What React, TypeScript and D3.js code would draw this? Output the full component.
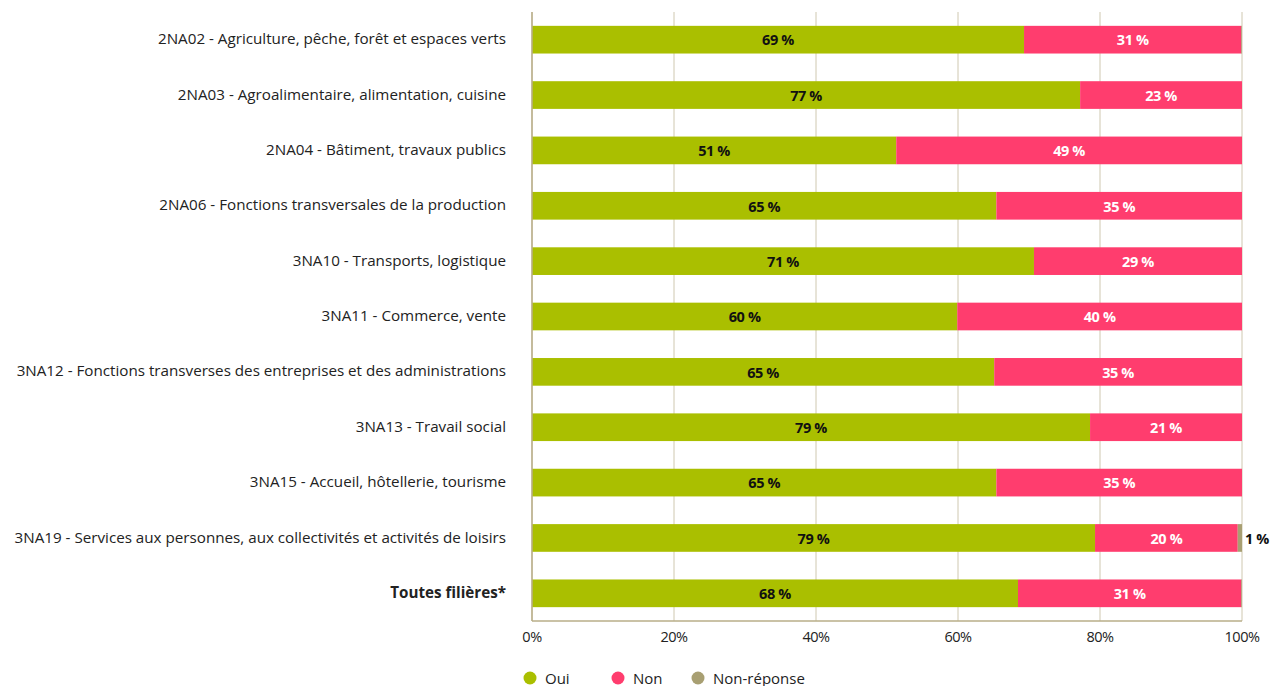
import React from "react";
import * as d3 from "d3";

const categories = [
  "2NA02 - Agriculture, pêche, forêt et espaces verts",
  "2NA03 - Agroalimentaire, alimentation, cuisine",
  "2NA04 - Bâtiment, travaux publics",
  "2NA06 - Fonctions transversales de la production",
  "3NA10 - Transports, logistique",
  "3NA11 - Commerce, vente",
  "3NA12 - Fonctions transverses des entreprises et des administrations",
  "3NA13 - Travail social",
  "3NA15 - Accueil, hôtellerie, tourisme",
  "3NA19 - Services aux personnes, aux collectivités et activités de loisirs",
  "Toutes filières*",
];
const oui = [69.3, 77.2, 51.3, 65.4, 70.7, 59.9, 65.1, 78.6, 65.4, 79.3, 68.45];
const non = [30.6, 22.8, 48.7, 34.6, 29.3, 40.1, 34.9, 21.4, 34.6, 20.1, 31.45];
const nonReponse = [0.1, 0, 0, 0, 0, 0, 0, 0, 0, 0.6, 0.1];
const xTicks = [0, 20, 40, 60, 80, 100];
const seriesNames = ["Oui", "Non", "Non-réponse"];
const colors = ["#aabf00", "#ff3d6e", "#a89f72"];

export default function App() {
  const W = 1270, H = 686;
  const x0 = 532, x1 = 1242, yTop = 12, yBot = 621;
  const x = d3.scaleLinear().domain([0, 100]).range([x0, x1]);
  const y = d3.scaleBand<string>().domain(categories).range([yTop, yBot]).paddingInner(0.5).paddingOuter(0.25);
  const font = "'Open Sans', sans-serif";
  const cond = "'Open Sans', sans-serif";
  const rows = categories.map((c, i) => ({ c, vals: [oui[i], non[i], nonReponse[i]] }));
  return (
    <svg width={W} height={H} style={{ position: "absolute", left: 0, top: 0 }}>
      <rect width={W} height={H} fill="#fff" />
      {xTicks.map((t) => (
        <line key={t} x1={x(t)} x2={x(t)} y1={yTop} y2={yBot} stroke="#cfc8b0" strokeWidth={1} />
      ))}
      {rows.map((r, i) => {
        let acc = 0;
        const yb = y(r.c)!;
        const bh = y.bandwidth();
        const cy = yb + bh / 2;
        return (
          <g key={r.c}>
            {r.vals.map((v, k) => {
              const s = acc;
              acc += v;
              if (v <= 0) return null;
              const xa = x(s), xb = x(s + v);
              const showIn = k < 2 && Math.round(v) >= 1;
              return (
                <g key={k}>
                  <rect x={xa} y={yb} width={xb - xa} height={bh} fill={colors[k]} />
                  {showIn && (
                    <text x={(xa + xb) / 2} y={cy} dy="0.4em" textAnchor="middle" fontFamily={cond} fontWeight="bold" fontSize={14.5} letterSpacing={-0.4} fill={k === 0 ? "#111" : "#fff"}>
                      {Math.round(v)} %
                    </text>
                  )}
                  {k === 2 && Math.round(v) >= 1 && (
                    <text x={x(100) + 3} y={cy} dy="0.4em" textAnchor="start" fontFamily={cond} fontWeight="bold" fontSize={14.5} letterSpacing={-0.4} fill="#111">
                      {Math.round(v)} %
                    </text>
                  )}
                </g>
              );
            })}
            <text x={506} y={cy} dy="0.3em" textAnchor="end" fontFamily={font} fontSize={15.2} fontWeight={i === categories.length - 1 ? "bold" : "normal"} fill="#222">
              {r.c}
            </text>
          </g>
        );
      })}
      <line x1={x0} x2={x0} y1={yTop} y2={yBot} stroke="#b8ae88" strokeWidth={1.5} />
      <line x1={x0} x2={x1} y1={yBot} y2={yBot} stroke="#b8ae88" strokeWidth={1.5} />
      {xTicks.map((t) => (
        <text key={t} x={x(t)} y={642} textAnchor="middle" fontFamily={cond} fontSize={14.5} letterSpacing={-0.5} fill="#222">
          {t}%
        </text>
      ))}
      {seriesNames.map((s, k) => {
        const lx = [530, 618, 698][k];
        return (
          <g key={s}>
            <circle cx={lx} cy={678} r={6.5} fill={colors[k]} />
            <text x={lx + 15} y={683.5} fontFamily={cond} fontSize={15} fill="#222">{s}</text>
          </g>
        );
      })}
    </svg>
  );
}
